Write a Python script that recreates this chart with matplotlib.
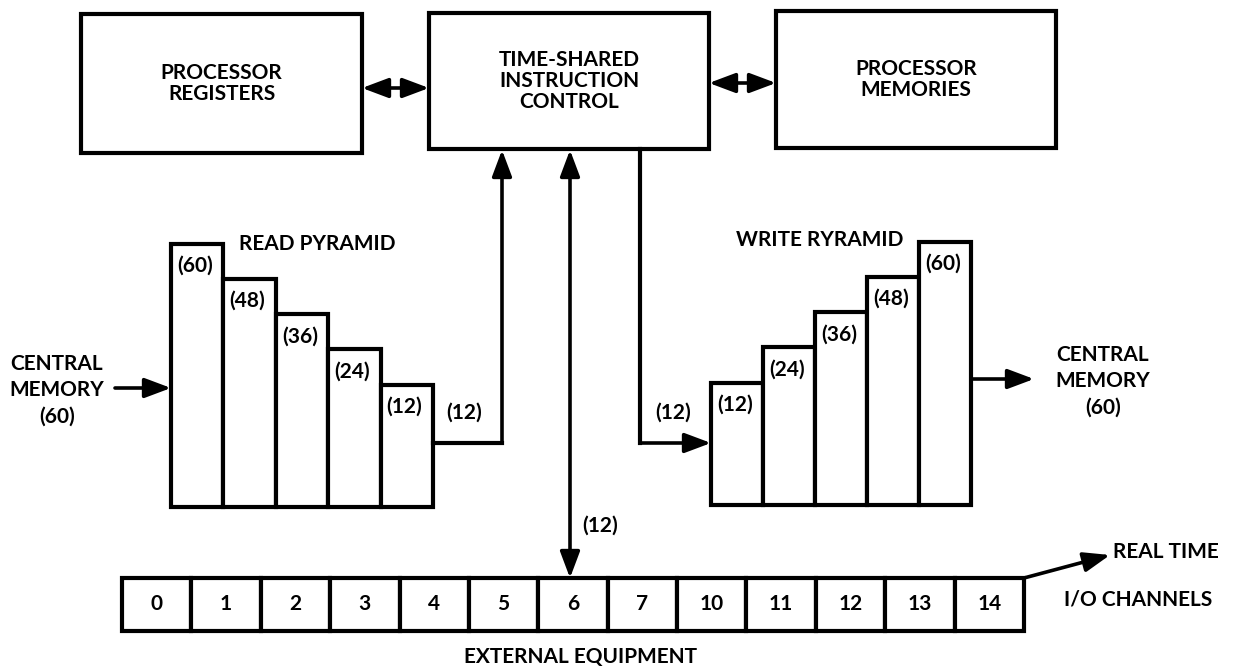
import matplotlib
matplotlib.use("Agg")
import matplotlib.pyplot as plt
from matplotlib.patches import Rectangle

# --- data -------------------------------------------------------------
read_pyramid = [60, 48, 36, 24, 12]      # register widths, read side
write_pyramid = [12, 24, 36, 48, 60]     # register widths, write side
channel_ids = ["0", "1", "2", "3", "4", "5", "6", "7",
               "10", "11", "12", "13", "14"]
bus_width = 12
memory_width = 60

# --- figure in pixel coordinates --------------------------------------
fig = plt.figure(figsize=(12.33, 6.70), dpi=100)
ax = fig.add_axes([0, 0, 1, 1])
ax.set_xlim(0, 1233)
ax.set_ylim(670, 0)
ax.axis("off")

FONT = dict(family=["Lato", "DejaVu Sans"], weight="bold", fontsize=15, color="black")
LW = 3.0


def box(x0, y0, x1, y1, text):
    ax.add_patch(Rectangle((x0, y0), x1 - x0, y1 - y0, fill=False, lw=LW, ec="black"))
    ax.text((x0 + x1) / 2, (y0 + y1) / 2, text, ha="center", va="center",
            linespacing=1.05, **FONT)


def arrow(p0, p1, both=False):
    style = "<|-|>" if both else "-|>"
    ax.annotate("", xy=p1, xytext=p0,
                arrowprops=dict(arrowstyle=style + ",head_length=0.8,head_width=0.3",
                                lw=2.6, color="black", mutation_scale=20,
                                shrinkA=0, shrinkB=0))


def pyramid(values, left, bottom, width):
    heights = [87 + 2.94 * v for v in values]
    lefts = [left + i * width for i in range(len(values))]
    ax.bar(lefts, [-h for h in heights], width=width, bottom=bottom, align="edge",
           fc="white", ec="black", lw=LW)
    for x, h, v in zip(lefts, heights, values):
        ax.text(x + 24, bottom - h + 22, f"({v})", ha="center", va="center", **FONT)


# top row of units
box(81, 14, 362, 153, "PROCESSOR\nREGISTERS")
box(429, 13, 709, 149, "TIME-SHARED\nINSTRUCTION\nCONTROL")
box(776, 11, 1056, 148, "PROCESSOR\nMEMORIES")
arrow((362, 88), (429, 88), both=True)
arrow((709, 83), (776, 83), both=True)

# read pyramid
pyramid(read_pyramid, 171, 507, 52.4)
ax.text(239, 244, "READ PYRAMID", ha="left", va="center", **FONT)
arrow((115, 388), (171, 388))
ax.text(57, 390, f"CENTRAL\nMEMORY\n({memory_width})", ha="center", va="center",
        linespacing=1.4, **FONT)
ax.plot([433, 502], [443, 443], color="black", lw=LW, solid_capstyle="projecting")
arrow((502, 443), (502, 150))
ax.text(464, 413, f"({bus_width})", ha="center", va="center", **FONT)

# write pyramid
pyramid(write_pyramid, 711, 505, 52.0)
ax.text(820, 240, "WRITE RYRAMID", ha="center", va="center", **FONT)
ax.plot([640, 640], [149, 443], color="black", lw=LW, solid_capstyle="projecting")
arrow((640, 443), (711, 443))
ax.text(673, 413, f"({bus_width})", ha="center", va="center", **FONT)
arrow((971, 379), (1034, 379))
ax.text(1103, 381, f"CENTRAL\nMEMORY\n({memory_width})", ha="center", va="center",
        linespacing=1.4, **FONT)

# I/O channels
cell_w = (1024 - 122) / len(channel_ids)
lefts = [122 + i * cell_w for i in range(len(channel_ids))]
ax.bar(lefts, [53] * len(channel_ids), width=cell_w, bottom=578, align="edge",
       fc="white", ec="black", lw=LW)
for x, lab in zip(lefts, channel_ids):
    ax.text(x + cell_w / 2, 604, lab, ha="center", va="center", **FONT)
arrow((570, 150), (570, 578), both=True)
ax.text(600, 526, f"({bus_width})", ha="center", va="center", **FONT)
arrow((1024, 578), (1110, 555))
ax.text(1113, 552, "REAL TIME", ha="left", va="center", **FONT)
ax.text(1064, 600, "I/O CHANNELS", ha="left", va="center", **FONT)
ax.text(580, 657, "EXTERNAL EQUIPMENT", ha="center", va="center", **FONT)

fig.savefig("out.png", dpi=100, facecolor="white")
